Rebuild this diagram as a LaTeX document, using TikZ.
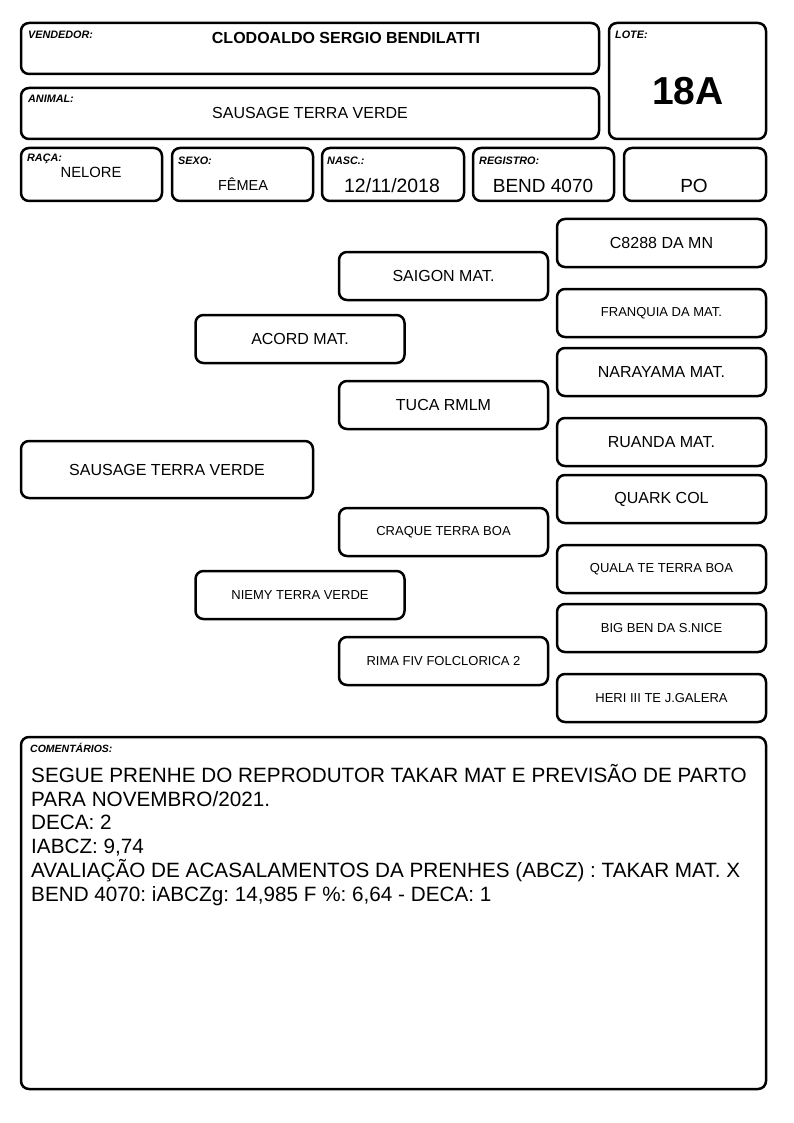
\documentclass[tikz,border=0pt]{standalone}
\usepackage{fontspec}
\setmainfont{Liberation Sans}
\frenchspacing
\begin{document}
\begin{tikzpicture}[x=1pt,y=-1pt,
  box/.style={draw=black,line width=2.5pt,rounded corners=8pt,inner sep=0pt},
  lbl/.style={anchor=west,inner sep=0pt,font=\fontsize{10.8}{12}\selectfont\bfseries\itshape},
  ped/.style={box,minimum width=209pt,minimum height=48pt,font=\fontsize{16}{18}\selectfont},
  peds/.style={box,minimum width=209pt,minimum height=48pt,font=\fontsize{13}{15}\selectfont},
  val/.style={inner sep=0pt,anchor=center}]
\useasboundingbox (0,0) rectangle (794,1123);
% header boxes
\node[box,minimum width=578pt,minimum height=51pt] (vend) at (310,48.5) {};
\node[lbl] (vendl) at (28,35) {VENDEDOR:};
\node[val,font=\fontsize{16}{18}\selectfont\bfseries] (vendv) at (346,38) {CLODOALDO SERGIO BENDILATTI};
\node[box,minimum width=578pt,minimum height=51pt] (anim) at (310,113.5) {};
\node[lbl] (animl) at (28,99) {ANIMAL:};
\node[val,font=\fontsize{16}{18}\selectfont] (animv) at (310,113) {SAUSAGE TERRA VERDE};
\node[box,minimum width=157pt,minimum height=116pt] (lote) at (687.5,81) {};
\node[lbl] (lotel) at (615,35) {LOTE:};
\node[val,font=\fontsize{39}{42}\selectfont\bfseries] (lotev) at (688,91) {18A};
% info row
\node[box,minimum width=141pt,minimum height=53pt] (raca) at (91.5,174.5) {};
\node[lbl] (racal) at (27,159) {RAÇA:};
\node[val,font=\fontsize{14.8}{17}\selectfont] (racav) at (91,172) {NELORE};
\node[box,minimum width=141pt,minimum height=53pt] (sexo) at (242.5,174.5) {};
\node[lbl] (sexol) at (178,161) {SEXO:};
\node[val,font=\fontsize{14.5}{17}\selectfont] (sexov) at (243,184) {FÊMEA};
\node[box,minimum width=142pt,minimum height=53pt] (nasc) at (393,174.5) {};
\node[lbl] (nascl) at (327,161) {NASC.:};
\node[val,font=\fontsize{19.4}{21}\selectfont] (nascv) at (392,186) {12/11/2018};
\node[box,minimum width=141pt,minimum height=53pt] (reg) at (543.5,174.5) {};
\node[lbl] (regl) at (479,161) {REGISTRO:};
\node[val,font=\fontsize{19}{21}\selectfont] (regv) at (543,186) {BEND 4070};
\node[box,minimum width=142pt,minimum height=53pt] (po) at (695,174.5) {};
\node[val,font=\fontsize{19}{21}\selectfont] (pov) at (694,186) {PO};
% pedigree
\node[box,minimum width=292pt,minimum height=57pt,font=\fontsize{16}{18}\selectfont] (sausage) at (167,469.5) {SAUSAGE TERRA VERDE};
\node[ped] (acord) at (300,339) {ACORD MAT.};
\node[peds] (niemy) at (300,595) {NIEMY TERRA VERDE};
\node[ped] (saigon) at (443.5,276) {SAIGON MAT.};
\node[ped] (tuca) at (443.5,405) {TUCA RMLM};
\node[peds] (craque) at (443.5,532) {CRAQUE TERRA BOA};
\node[peds] (rima) at (443.5,661) {RIMA FIV FOLCLORICA 2};
\node[ped] (c8288) at (661.5,243) {C8288 DA MN};
\node[peds] (franquia) at (661.5,313) {FRANQUIA DA MAT.};
\node[ped] (narayama) at (661.5,372) {NARAYAMA MAT.};
\node[ped] (ruanda) at (661.5,442) {RUANDA MAT.};
\node[ped] (quark) at (661.5,499) {QUARK COL};
\node[peds] (quala) at (661.5,569) {QUALA TE TERRA BOA};
\node[peds] (bigben) at (661.5,628) {BIG BEN DA S.NICE};
\node[peds] (heri) at (661.5,698) {HERI III TE J.GALERA};
% comments
\node[box,minimum width=745pt,minimum height=352pt] (com) at (393.5,913) {};
\node[lbl,font=\fontsize{10.5}{12}\selectfont\bfseries\itshape] (coml) at (30,748) {COMENTÁRIOS:};
\node[anchor=north west,inner sep=0pt,align=left,font=\fontsize{20.7}{23.8}\selectfont] (comv) at (31,764) {SEGUE PRENHE DO REPRODUTOR TAKAR MAT E PREVISÃO DE PARTO\\PARA NOVEMBRO/2021.\\DECA: 2\\IABCZ: 9,74\\AVALIAÇÃO DE ACASALAMENTOS DA PRENHES (ABCZ) : TAKAR MAT. X\\BEND 4070: iABCZg: 14,985 F \%: 6,64 - DECA: 1};
\end{tikzpicture}
\end{document}
